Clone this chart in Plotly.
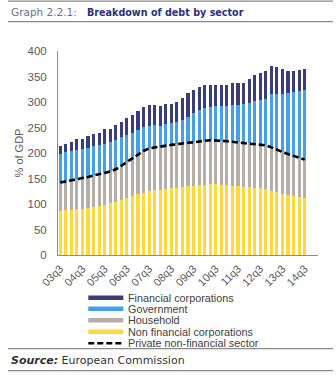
import plotly.graph_objects as go

# ---------------- data ----------------
quarters = [f"{y:02d}q{q}" for y in range(3, 15) for q in range(1, 5)][2:47]
tick_labels = [f"{y:02d}q3" for y in range(3, 15)]

nfc = [87, 88, 89, 90, 91, 93, 95, 97, 99, 101, 104, 107, 111, 115, 119, 122, 125, 127, 128, 130,
       131, 132, 134, 135, 136, 137, 138, 139, 139, 138, 137, 136, 135, 134, 133, 132, 131, 129,
       126, 123, 120, 117, 115, 113, 111]
household = [55, 56, 57, 59, 60, 60, 61, 61, 62, 63, 64, 68, 71, 75, 78, 82, 84, 84, 84, 84,
             85, 85, 85, 85, 85, 86, 86, 86, 86, 86, 86, 86, 86, 86, 86, 86, 86, 86,
             85, 83, 82, 81, 79, 78, 76]
government = [57, 57, 57, 57, 56, 57, 57, 57, 57, 57, 58, 56, 54, 50, 48, 47, 44, 43, 41, 42,
              42, 44, 46, 51, 57, 61, 64, 66, 67, 69, 70, 72, 74, 76, 80, 83, 86, 91,
              104, 110, 114, 119, 125, 130, 136]
financial = [15, 16, 19, 21, 21, 23, 25, 25, 29, 27, 29, 30, 32, 34, 37, 40, 42, 41, 40, 41,
             39, 39, 43, 47, 45, 46, 45, 42, 42, 41, 40, 44, 43, 42, 46, 52, 53, 55,
             55, 53, 48, 44, 41, 42, 41]
private = [a + b for a, b in zip(nfc, household)]

names = ["Financial corporations", "Government", "Household",
         "Non financial corporations", "Private non-financial sector"]
colors = {"fin": "#3b3d78", "gov": "#45a0ea", "hh": "#b6aea9", "nfc": "#ffd93c"}

# ---------------- figure ----------------
W, H = 336, 382
L, R, T, B = 58, 18, 51, 127
PW, PH = W - L - R, H - T - B


def px(x):
    return (x - L) / PW


def py(y):
    return (H - B - y) / PH


fig = go.Figure()
for vals, key, nm in [(nfc, "nfc", names[3]), (household, "hh", names[2]),
                      (government, "gov", names[1]), (financial, "fin", names[0])]:
    fig.add_trace(go.Bar(x=quarters, y=vals, name=nm, marker_color=colors[key],
                         marker_line_width=0, showlegend=False))
fig.add_trace(go.Scatter(x=quarters, y=private, name=names[4], mode="lines",
                         line=dict(color="black", width=2.6, dash="6px,3px"),
                         showlegend=False))

font_axis = "Liberation Sans, Arial, sans-serif"
font_head = "DejaVu Sans, sans-serif"

fig.update_layout(
    width=W, height=H, margin=dict(l=L, r=R, t=T, b=B),
    paper_bgcolor="white", plot_bgcolor="white",
    barmode="stack", bargap=0.45,
    showlegend=False,
    font=dict(family=font_axis, size=11, color="#595959"),
)
fig.update_xaxes(type="category", range=[-0.4, 46.4], tickmode="array",
                 tickvals=tick_labels, ticktext=tick_labels, tickangle=-45,
                 showline=True, linecolor="#8c8c8c", linewidth=1, showgrid=False,
                 ticks="", ticklabelstandoff=2, tickfont=dict(size=11, color="#595959"))
fig.update_yaxes(range=[0, 400], dtick=50, showline=True, linecolor="#8c8c8c",
                 linewidth=1, showgrid=False, zeroline=False, ticks="",
                 ticklabelstandoff=8,
                 title=dict(text="% of GDP", standoff=1, font=dict(size=11, color="#595959")),
                 tickfont=dict(size=11.5, color="#595959"))

shapes = []
annots = []
# header / footer rules
for yy in [1.2, 21.7, 348.7, 370.7]:
    shapes.append(dict(type="line", xref="paper", yref="paper", x0=px(8), x1=px(333),
                       y0=py(yy), y1=py(yy), line=dict(color="#8a8a8a", width=1.2)))
annots.append(dict(xref="paper", yref="paper", x=px(9), y=py(12.3), xanchor="left",
                   yanchor="middle", showarrow=False, text="Graph 2.2.1:",
                   font=dict(family=font_head, size=10.5, color="#6b6e8e")))
annots.append(dict(xref="paper", yref="paper", x=px(85), y=py(12.3), xanchor="left",
                   yanchor="middle", showarrow=False, text="<b>Breakdown of debt by sector</b>",
                   font=dict(family=font_head, size=9.6, color="#2b2f7c")))
annots.append(dict(xref="paper", yref="paper", x=px(9), y=py(360), xanchor="left",
                   yanchor="middle", showarrow=False,
                   text="<b><i>Source:</i></b> European Commission",
                   font=dict(family=font_head, size=11, color="#333333")))

# manual legend
leg_y = [297.8, 308.8, 320.3, 331.7, 343.2]
leg_keys = ["fin", "gov", "hh", "nfc"]
for i, nm in enumerate(names):
    yc = leg_y[i]
    if i < 4:
        shapes.append(dict(type="rect", xref="paper", yref="paper", x0=px(88.3), x1=px(123.3),
                           y0=py(yc - 2.3), y1=py(yc + 2.3), line=dict(width=0),
                           fillcolor=colors[leg_keys[i]]))
    else:
        shapes.append(dict(type="line", xref="paper", yref="paper", x0=px(88.3), x1=px(123.3),
                           y0=py(yc), y1=py(yc),
                           line=dict(color="black", width=2.6, dash="6px,3px")))
    annots.append(dict(xref="paper", yref="paper", x=px(126), y=py(yc), xanchor="left",
                       yanchor="middle", showarrow=False, text=nm,
                       font=dict(family=font_axis, size=10.8, color="#404040")))

fig.update_layout(shapes=shapes, annotations=annots)
fig.write_html("out.html")
